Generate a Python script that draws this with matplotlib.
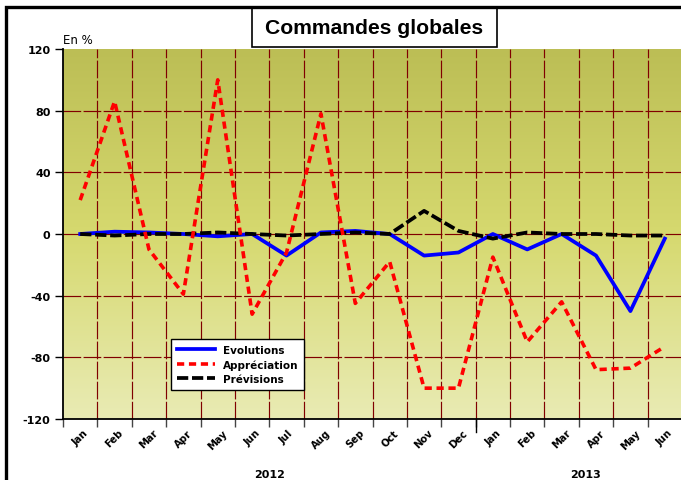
import numpy as np
import matplotlib
matplotlib.use('Agg')
import matplotlib.pyplot as plt
from matplotlib.colors import LinearSegmentedColormap
from matplotlib.patches import Rectangle

# data
months = ['Jan', 'Feb', 'Mar', 'Apr', 'May', 'Jun', 'Jul', 'Aug', 'Sep', 'Oct', 'Nov', 'Dec',
          'Jan', 'Feb', 'Mar', 'Apr', 'May', 'Jun']
years = ['2012', '2013']
evolutions = [0, 1.5, 1, 0, -1.5, 0, -14, 1, 2, 0, -14, -12, 0, -10, 0, -14, -50, -3]
appreciation = [22, 86, -10, -39, 100, -52, -12, 78, -45, -18, -100, -100, -15, -70, -44, -88, -87, -73]
previsions = [0, -1, 0, 0, 1, 0, -1, 0, 1, 0, 15, 2, -3, 1, 0, 0, -1, -1]

W, H = 681, 481
fig = plt.figure(figsize=(W / 100, H / 100), dpi=100)
ax = fig.add_axes([63 / W, 1 - 420 / H, 619 / W, 370 / H])

x = np.arange(len(months))

# gradient background of the plot area (dark olive on top, pale at the bottom)
cmap = LinearSegmentedColormap.from_list('bg', ['#bcbe55', '#d6d96f', '#e9ebb4'])
grad = np.linspace(0, 1, 256).reshape(-1, 1)
ax.imshow(grad, cmap=cmap, aspect='auto', origin='upper',
          extent=[-0.5, len(months) - 0.5, -120, 120], zorder=0, interpolation='bicubic')
ax.set_xlim(-0.5, len(months) - 0.5)
ax.set_ylim(-120, 120)

# grid
grid_kw = dict(color='#800000', lw=0.85, linestyle=(0, (15, 2)), zorder=1)
for b in np.arange(0.5, len(months) - 0.5, 1):
    ax.axvline(b, **grid_kw)
for yv in [-80, -40, 0, 40, 80]:
    ax.axhline(yv, **grid_kw)

# series
l_evo, = ax.plot(x, evolutions, color='#0000ff', lw=2.7, zorder=3, label='Evolutions',
                 solid_joinstyle='round')
l_prev, = ax.plot(x, previsions, color='black', lw=2.7, linestyle=(0, (3, 1)), zorder=4,
                  label='Prévisions')
l_app, = ax.plot(x, appreciation, color='#ff0000', lw=2.6, linestyle=(0, (2, 1.3)), zorder=5,
                 label='Appréciation')

# axes styling
for s in ['top', 'right']:
    ax.spines[s].set_visible(False)
ax.spines['left'].set_linewidth(1.3)
ax.spines['bottom'].set_linewidth(1.3)

ax.set_yticks([-120, -80, -40, 0, 40, 80, 120])
ax.set_yticklabels(['-120', '-80', '-40', '0', '40', '80', '120'], fontsize=8, fontweight='bold')
ax.tick_params(axis='y', length=6, width=1, direction='out', pad=3)

ax.set_xticks(np.arange(-0.5, len(months), 1))
ax.set_xticklabels([])
ax.tick_params(axis='x', which='major', length=6, width=1, color='#444444')
ax.set_xticks(x, minor=True)
ax.set_xticklabels(months, minor=True, rotation=45, fontsize=7.2, fontweight='bold',
                   ha='center', va='top')
ax.tick_params(axis='x', which='minor', length=0, pad=6)
ax.plot([11.5, 11.5], [0, -0.035], transform=ax.get_xaxis_transform(), color='black',
        lw=1, clip_on=False)

ax.text(5.5, -0.15, years[0], transform=ax.get_xaxis_transform(), ha='center',
        va='center', fontsize=8, fontweight='bold')
ax.text(14.7, -0.15, years[1], transform=ax.get_xaxis_transform(), ha='center',
        va='center', fontsize=8, fontweight='bold')

leg = ax.legend(handles=[l_evo, l_app, l_prev],
                loc='upper left', bbox_to_anchor=(166 / W, 1 - 335 / H),
                bbox_transform=fig.transFigure, fancybox=False, framealpha=1,
                edgecolor='black', handlelength=3.7, handletextpad=0.7,
                borderpad=0.55, labelspacing=0.4, prop={'size': 7.5, 'weight': 'bold'})
leg.get_frame().set_linewidth(1.0)
leg.set_zorder(10)

# label, title box and outer frame
fig.text(63 / W, 1 - 40 / H, 'En %', fontsize=8.5, ha='left', va='center')
fig.patches.append(Rectangle((252 / W, 1 - 48 / H), 245 / W, 40 / H,
                             transform=fig.transFigure, facecolor='white',
                             edgecolor='black', lw=1.2, zorder=5))
fig.text(374 / W, 1 - 29 / H, 'Commandes globales', fontsize=15.2, fontweight='bold',
         family='Liberation Sans', ha='center', va='center', zorder=6)
fig.patches.append(Rectangle((6 / W, -0.1), 1.2, (1 - 8 / H) + 0.1,
                             transform=fig.transFigure, facecolor='none',
                             edgecolor='black', lw=2.4, zorder=7))

fig.savefig('out.png', dpi=100)
